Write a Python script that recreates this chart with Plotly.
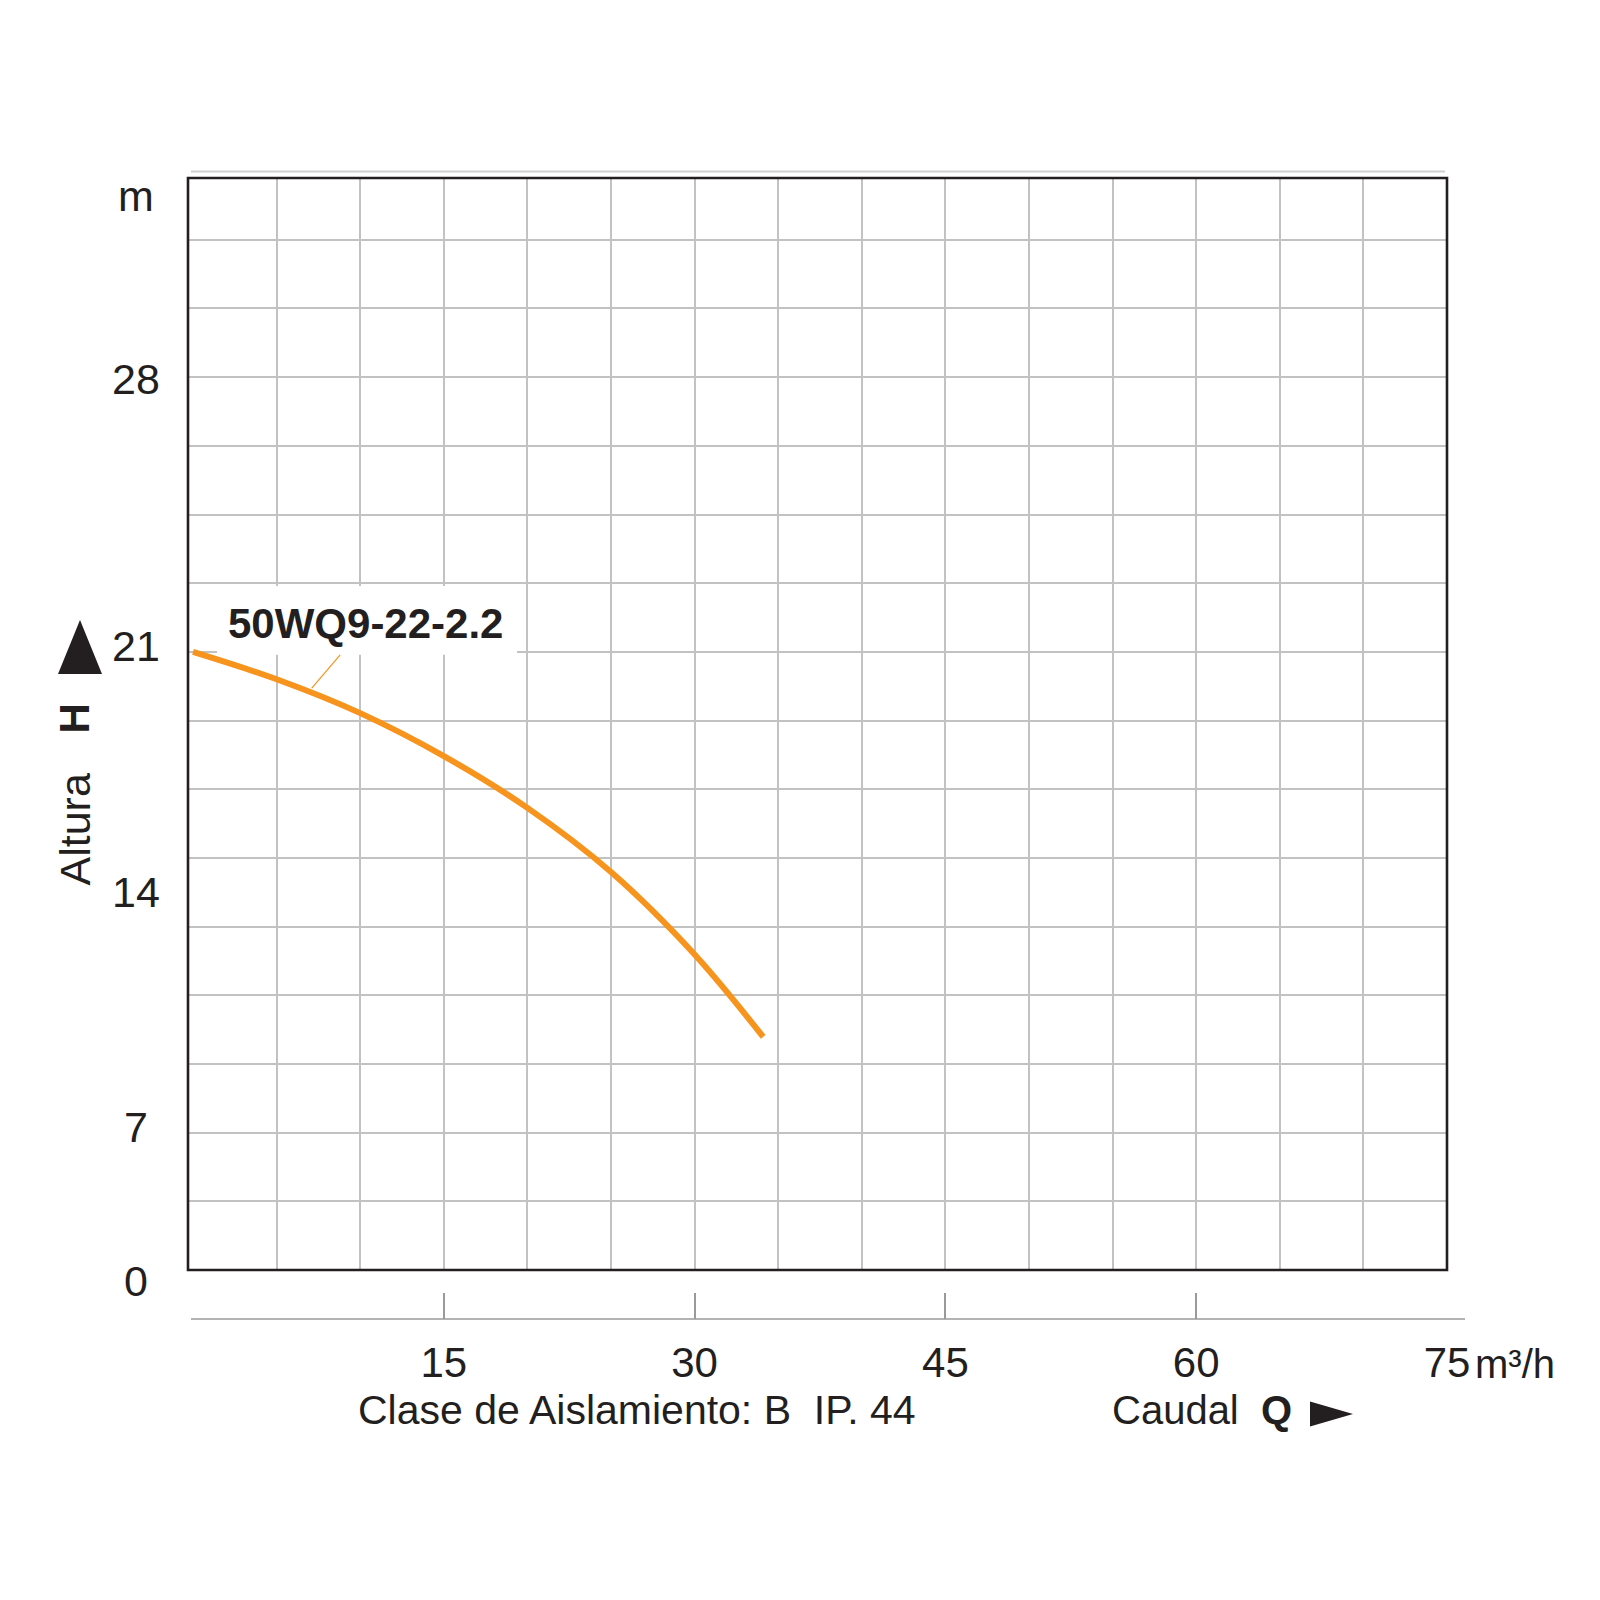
import plotly.graph_objects as go

# ---------------- data ----------------
flow_q = [0, 5, 10, 15, 20, 25, 30, 34.1]                    # m3/h
head_h = [21.0, 20.07, 18.92, 17.46, 15.7, 13.52, 10.72, 7.92]  # m
curve_name = "50WQ9-22-2.2"

x_tick_vals = [15, 30, 45, 60, 75]
x_tick_text = ["15", "30", "45", "60", "75"]
x_minor_grid = [5, 10, 20, 25, 35, 40, 50, 55, 65, 70]

Y_MAX = 37.1
grid_step = 7 / 3
y_grid = [grid_step * k for k in range(1, 16)]
y_label_text = ["0", "7", "14", "21", "28", "m"]
y_label_pos = [-0.37, 4.86, 12.83, 21.2, 30.28, 36.5]

# ---------------- geometry helpers (screenshot pixels) ----------------
W, H = 1600, 1600
OFF = 8  # page body margin
L, R, T, B_AX, B_PL = 188, 1447, 178, 1319, 1270


def pxx(x):
    return (x - L) / (R - L)


def pxy(y):
    return (B_AX - y) / (B_AX - T)


FONT = "Liberation Sans, Arial, Helvetica, sans-serif"
INK = "#231f20"
GRID = "#c2c2c2"
ORANGE = "#F7941D"

fig = go.Figure()
fig.add_trace(go.Scatter(
    x=flow_q, y=head_h, mode="lines",
    line=dict(color=ORANGE, width=6, shape="spline", smoothing=1.0),
    showlegend=False, hoverinfo="skip",
))

fig.update_layout(
    width=W, height=H,
    margin=dict(l=L - OFF, r=W - (R - OFF), t=T - OFF, b=H - (B_AX - OFF), pad=0),
    paper_bgcolor="white", plot_bgcolor="white",
    font=dict(family=FONT, color=INK, size=42),
    xaxis=dict(
        range=[-0.3, 75.0], anchor="free", position=0,
        tickvals=x_tick_vals, ticktext=x_tick_text,
        ticks="inside", ticklen=26, tickcolor="#9a9a9a", tickwidth=1.5,
        showgrid=True, gridcolor=GRID, gridwidth=1.5,
        minor=dict(tickvals=x_minor_grid, showgrid=True, gridcolor=GRID,
                   gridwidth=1.5, ticks=""),
        showline=False, zeroline=False,
        tickfont=dict(size=42, family=FONT, color=INK),
        ticklabelstandoff=15,
    ),
    yaxis=dict(
        range=[0, Y_MAX], domain=[(B_AX - B_PL) / (B_AX - T), 1],
        tickvals=y_grid, showticklabels=False, ticks="",
        showgrid=True, gridcolor=GRID, gridwidth=1.5,
        showline=False, zeroline=False,
    ),
)

shapes = []
# white box behind curve label
shapes.append(dict(type="rect", xref="x", yref="y", x0=1.44, x1=19.38, y0=20.9, y1=23.24,
                   fillcolor="white", line=dict(width=0), layer="between"))
# leader line
shapes.append(dict(type="line", xref="x", yref="y", x0=8.8, y0=20.9, x1=7.1, y1=19.77,
                   line=dict(color=ORANGE, width=1.2), layer="above"))
# frame
shapes.append(dict(type="rect", xref="x domain", yref="y domain", x0=0, x1=1, y0=0, y1=1,
                   line=dict(color=INK, width=2.6), layer="above"))
# top light line
shapes.append(dict(type="line", xref="paper", yref="paper", x0=pxx(191), x1=pxx(1445),
                   y0=pxy(171.5), y1=pxy(171.5), line=dict(color="#cfcfcf", width=2.2)))
# bottom axis line
shapes.append(dict(type="line", xref="paper", yref="paper", x0=pxx(191), x1=pxx(1465),
                   y0=pxy(1319), y1=pxy(1319), line=dict(color="#9a9a9a", width=1.5)))
# up triangle (H)
shapes.append(dict(type="path", xref="paper", yref="paper",
                   path=f"M {pxx(58)} {pxy(674)} L {pxx(102)} {pxy(674)} L {pxx(80)} {pxy(620)} Z",
                   fillcolor=INK, line=dict(width=0)))
# right triangle (Q)
shapes.append(dict(type="path", xref="paper", yref="paper",
                   path=f"M {pxx(1310)} {pxy(1401.5)} L {pxx(1353)} {pxy(1414)} L {pxx(1310)} {pxy(1426.5)} Z",
                   fillcolor=INK, line=dict(width=0)))
fig.update_layout(shapes=shapes)

ann = []
for t, v in zip(y_label_text, y_label_pos):
    ann.append(dict(text=t, xref="paper", yref="y domain", x=pxx(136), y=v / Y_MAX,
                    showarrow=False, xanchor="center", yanchor="middle",
                    font=dict(size=43, family=FONT, color=INK)))
ann.append(dict(text="<b>" + curve_name + "</b>", xref="x", yref="y", x=10.29, y=21.95,
                showarrow=False, xanchor="center", yanchor="middle",
                font=dict(size=42, family=FONT, color=INK)))
ann.append(dict(text="m³/h", xref="paper", yref="paper", x=pxx(1473), y=pxy(1364),
                showarrow=False, xanchor="left", yanchor="middle",
                font=dict(size=40, family=FONT, color=INK)))
ann.append(dict(text="Clase de Aislamiento: B\u00a0\u00a0IP. 44", xref="paper", yref="paper",
                x=pxx(637), y=pxy(1410), showarrow=False, xanchor="center", yanchor="middle",
                font=dict(size=41, family=FONT, color=INK)))
ann.append(dict(text="Caudal\u00a0\u00a0<b>Q</b>", xref="paper", yref="paper",
                x=pxx(1110), y=pxy(1410), showarrow=False, xanchor="left", yanchor="middle",
                font=dict(size=40, family=FONT, color=INK)))
ann.append(dict(text="Altura", xref="paper", yref="paper", x=pxx(74), y=pxy(829.5),
                showarrow=False, textangle=-90, xanchor="center", yanchor="middle",
                font=dict(size=43, family=FONT, color=INK)))
ann.append(dict(text="<b>H</b>", xref="paper", yref="paper", x=pxx(74), y=pxy(718.5),
                showarrow=False, textangle=-90, xanchor="center", yanchor="middle",
                font=dict(size=42, family=FONT, color=INK)))
fig.update_layout(annotations=ann)

fig.write_html("out.html")
